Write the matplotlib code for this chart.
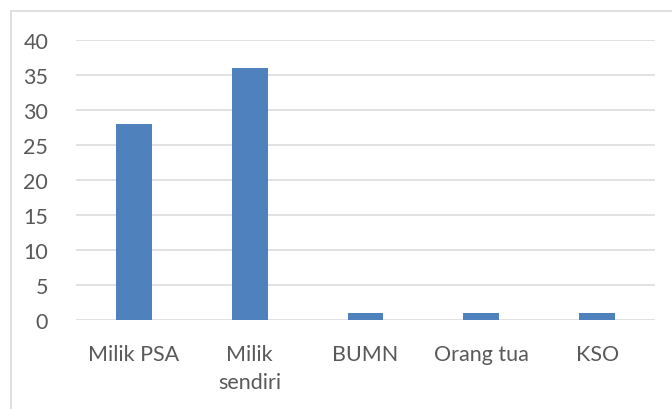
import matplotlib
matplotlib.use("Agg")
import matplotlib.pyplot as plt
from matplotlib.patches import Rectangle

categories = ["Milik PSA", "Milik\nsendiri", "BUMN", "Orang tua", "KSO"]
values = [28, 36, 1, 1, 1]
yticks = [0, 5, 10, 15, 20, 25, 30, 35, 40]

plt.rcParams["font.family"] = ["Lato", "DejaVu Sans"]

fig = plt.figure(figsize=(6.72, 4.10), dpi=100)
ax = fig.add_axes([76 / 672, 1 - 321 / 410, (655 - 76) / 672, (321 - 41) / 410])

# chart-area border
fig.patches.append(Rectangle((11 / 672, -0.05), 1.1, 1 - 12 / 410 + 0.05,
                             transform=fig.transFigure, fill=False,
                             edgecolor="#d9d9d9", linewidth=1.2))

x = range(len(categories))
ax.bar(x, values, width=0.31, color="#4f81bd", zorder=3)

ax.set_xlim(-0.5, len(categories) - 0.5)
ax.set_ylim(0, 40)
ax.set_yticks(yticks)
ax.set_xticks(list(x))
ax.set_xticklabels(categories, linespacing=1.5)
ax.grid(axis="y", color="#d9d9d9", linewidth=1.1, zorder=0)
for s in ax.spines.values():
    s.set_visible(False)
ax.tick_params(axis="both", length=0, labelsize=15.5, labelcolor="#595959")
ax.tick_params(axis="y", pad=20)
ax.tick_params(axis="x", pad=17)

fig.savefig("out.png", dpi=100)
